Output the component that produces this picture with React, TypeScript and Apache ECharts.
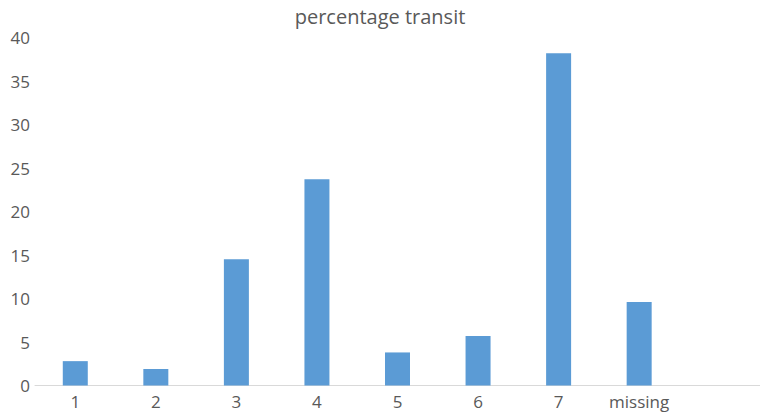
import React, { useEffect, useRef } from "react";
import * as echarts from "echarts";

// Share of respondents by transit score, plus a trailing empty slot on the axis
const categories = ["1", "2", "3", "4", "5", "6", "7", "missing", ""];
const percentages = [2.8, 1.9, 14.5, 23.7, 3.8, 5.7, 38.2, 9.6, null];
const yTicks = { min: 0, max: 40, interval: 5 };

const TEXT = "#595959";
const FONT = "'Open Sans', 'Noto Sans', sans-serif";

export default function App() {
  const ref = useRef<HTMLDivElement>(null);

  useEffect(() => {
    if (!ref.current) return;
    const chart = echarts.init(ref.current, undefined, { renderer: "svg" });
    chart.setOption({
      animation: false,
      title: {
        text: "percentage transit",
        left: "center",
        top: 1,
        textStyle: { color: TEXT, fontSize: 20, fontWeight: "normal", fontFamily: FONT },
      },
      grid: { left: 35, right: -4, top: 37.5, bottom: 31.5 },
      xAxis: {
        type: "category",
        data: categories,
        axisLine: { lineStyle: { color: "#d9d9d9", width: 1 } },
        axisTick: { show: false },
        axisLabel: { color: TEXT, fontSize: 17, fontFamily: FONT, margin: 7 },
      },
      yAxis: {
        type: "value",
        min: yTicks.min,
        max: yTicks.max,
        interval: yTicks.interval,
        splitLine: { show: false },
        axisLine: { show: false },
        axisTick: { show: false },
        axisLabel: { color: TEXT, fontSize: 17, fontFamily: FONT, margin: 5, align: "right" },
      },
      series: [
        {
          type: "bar",
          data: percentages,
          barWidth: 25,
          itemStyle: { color: "#5b9bd5" },
        },
      ],
    });
    return () => chart.dispose();
  }, []);

  return <div ref={ref} style={{ width: 760, height: 417, position: "absolute", left: 0, top: 0 }} />;
}
